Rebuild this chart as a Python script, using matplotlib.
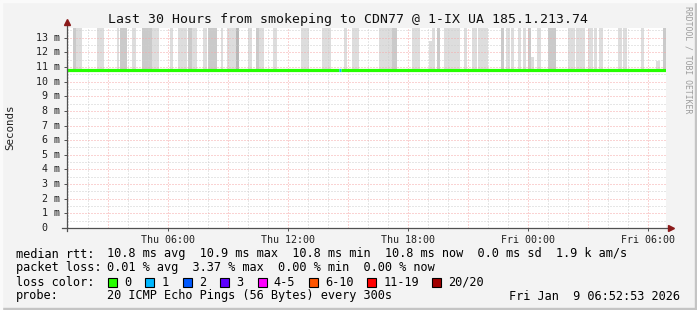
import matplotlib
matplotlib.use("Agg")
import matplotlib.pyplot as plt
from matplotlib.patches import Rectangle
from matplotlib.transforms import blended_transform_factory

plt.rcParams['font.family'] = ['DejaVu Sans Mono']

# time axis in hours since Thu 00:00
t_start = 0.95
t_end = 30.9

# smoke bars: start hour, end hour, top (ms), shade
smoke_start = [1.25, 1.40, 2.45, 3.45, 3.60, 4.20, 4.70, 5.20, 6.10, 6.50, 7.00, 7.20, 7.75, 8.00,
               8.65, 8.95, 9.40, 10.00, 10.40, 10.55, 11.25, 12.65, 13.70, 14.80, 15.20, 16.55,
               17.20, 18.20, 19.05, 19.20, 19.45, 19.80, 20.80, 21.20, 21.50, 22.65, 22.90, 23.15,
               23.50, 23.75, 24.00, 24.15, 24.45, 25.00, 26.00, 26.40, 27.00, 27.30, 27.55, 28.50,
               28.75, 29.65, 30.40, 30.75]
smoke_end = [1.40, 1.70, 2.80, 3.55, 3.95, 4.40, 5.20, 5.55, 6.25, 6.95, 7.20, 7.45, 7.95, 8.45,
             8.75, 9.40, 9.55, 10.20, 10.55, 10.80, 11.45, 13.05, 14.15, 14.95, 15.55, 17.20,
             17.45, 18.60, 19.20, 19.35, 19.60, 20.60, 20.95, 21.45, 22.00, 22.80, 23.10, 23.30,
             23.65, 23.90, 24.15, 24.30, 24.65, 25.40, 26.35, 26.85, 27.25, 27.45, 27.75, 28.70,
             28.95, 29.80, 30.60, 30.90]
smoke_top = [14, 14, 14, 14, 14, 14, 14, 14, 14, 14, 14, 14, 14, 14,
             14, 14, 14, 14, 14, 14, 14, 14, 14, 14, 14, 14,
             14, 14, 12.8, 14, 14, 14, 14, 14, 14, 14, 14, 14,
             14, 14, 14, 11.7, 14, 14, 14, 14, 14, 14, 14, 14,
             14, 14, 11.4, 14]
smoke_shade = ['D', 'L', 'L', 'L', 'D', 'L', 'D', 'L', 'L', 'L', 'D', 'L', 'L', 'D',
               'L', 'L', 'X', 'L', 'D', 'L', 'L', 'L', 'L', 'L', 'L', 'L',
               'D', 'L', 'L', 'L', 'D', 'L', 'L', 'L', 'L', 'D', 'L', 'L',
               'L', 'L', 'D', 'L', 'L', 'D', 'L', 'L', 'L', 'L', 'L', 'L',
               'L', 'L', 'L', 'D']
shade_colors = {'L': '#dddddd', 'D': '#cacaca', 'X': '#b8b8b8'}
smoke_bottom = 10.75

# median rtt segments (hours), value and loss class
med_start = [0.95, 14.55, 14.65]
med_end = [14.55, 14.65, 30.9]
med_value = [10.8, 10.8, 10.8]
med_loss = [0, 1, 0]

xtick_hours = [6, 12, 18, 24, 30]
xtick_labels = ['Thu 06:00', 'Thu 12:00', 'Thu 18:00', 'Fri 00:00', 'Fri 06:00']
ytick_values = list(range(14))

loss_labels = ['0', '1', '2', '3', '4-5', '6-10', '11-19', '20/20']
loss_colors = ['#26ff00', '#00b8ff', '#0059ff', '#5e00ff', '#ff00ff', '#ff5500', '#ff0000', '#a10000']

title = 'Last 30 Hours from smokeping to CDN77 @ 1-IX UA 185.1.213.74'
rtt_line = '10.8 ms avg  10.9 ms max  10.8 ms min  10.8 ms now  0.0 ms sd  1.9 k am/s'
loss_line = '0.01 % avg  3.37 % max  0.00 % min  0.00 % now'
probe_line = '20 ICMP Echo Pings (56 Bytes) every 300s'
stamp = 'Fri Jan  9 06:52:53 2026'

W, H = 697, 310
fig = plt.figure(figsize=(W / 100, H / 100), dpi=100, facecolor='#f3f3f3')

# frame
fig.patches.append(Rectangle((0, 0), 1, 2 / H, transform=fig.transFigure, color='#c4c4c4', zorder=0))
fig.patches.append(Rectangle((1 - 2 / W, 0), 2 / W, 1, transform=fig.transFigure, color='#c4c4c4', zorder=0))
fig.patches.append(Rectangle((0, 1 - 2 / H), 1, 2 / H, transform=fig.transFigure, color='#fafafa', zorder=0))
fig.patches.append(Rectangle((0, 0), 2 / W, 1, transform=fig.transFigure, color='#fafafa', zorder=0))

ax = fig.add_axes([67 / W, 1 - 228 / H, 599 / W, 200 / H])
ax.set_facecolor('white')
ax.set_xlim(t_start, t_start + 599 / 20)
ax.set_ylim(0, 13.66)

for s, e, top, sh in zip(smoke_start, smoke_end, smoke_top, smoke_shade):
    ax.bar(s, top - smoke_bottom, width=e - s, bottom=smoke_bottom, align='edge',
           color=shade_colors[sh], linewidth=0, zorder=1)

# grid
for h in range(1, 32):
    if h % 3 == 0:
        ax.axvline(h, color='#f6a8a8', lw=0.72, ls=(0, (1, 2)), zorder=2)
    else:
        ax.axvline(h, color='#cfcfcf', lw=0.72, ls=(0, (1, 2)), zorder=2)
for k in range(1, 28):
    v = k * 0.5
    if k % 2 == 0:
        ax.axhline(v, color='#f6a8a8', lw=0.72, ls=(0, (1, 2)), zorder=2)
    else:
        ax.axhline(v, color='#cfcfcf', lw=0.72, ls=(0, (1, 2)), zorder=2)

for s, e, v, l in zip(med_start, med_end, med_value, med_loss):
    ax.plot([s, e], [v, v], color=loss_colors[l], lw=2.3, solid_capstyle='butt', zorder=4)

for sp in ax.spines.values():
    sp.set_visible(False)

# axes with arrows
ax.plot([0, 0], [-0.015, 1.025], transform=ax.transAxes, color='#505050', lw=0.9, clip_on=False, zorder=5)
ax.plot([-0.008, 1.005], [0, 0], transform=ax.transAxes, color='#505050', lw=0.9, clip_on=False, zorder=5)
ax.plot([0], [1.03], transform=ax.transAxes, marker='^', ms=5, color='#8b1a1a', clip_on=False, zorder=6)
ax.plot([1.008], [0], transform=ax.transAxes, marker='>', ms=5, color='#8b1a1a', clip_on=False, zorder=6)

ax.set_xticks(xtick_hours)
ax.set_xticklabels(xtick_labels, fontsize=7.2, color='#202020')
ax.tick_params(axis='x', length=2, width=0.7, color='#505050', pad=3)
ax.set_yticks(ytick_values)
ax.set_yticklabels([])
ax.tick_params(axis='y', length=2.5, width=0.7, color='#505050')

bt = blended_transform_factory(fig.transFigure, ax.transData)
for v in ytick_values:
    lab = f'{v:2d} m' if v else ' 0'
    fig.text(36 / W, v, lab, transform=bt, fontsize=7.2, ha='left', va='center', color='#202020')

fig.text(348 / W, 1 - 19 / H, title, fontsize=9.55, ha='center', va='center', color='#101010')
fig.text(10 / W, 1 - 127 / H, 'Seconds', fontsize=7.8, rotation=90, ha='center', va='center', color='#202020')
fig.text(688 / W, 1 - 60 / H, 'RRDTOOL / TOBI OETIKER', fontsize=5.9, rotation=270,
         ha='center', va='center', color='#9c9c9c')

cw = 6.93
fs = 8.6
rows_y = [254, 268, 282, 296]
fig.text(16 / W, 1 - rows_y[0] / H, 'median rtt:', fontsize=fs, ha='left', va='center')
fig.text(107 / W, 1 - rows_y[0] / H, rtt_line, fontsize=fs, ha='left', va='center')
fig.text(16 / W, 1 - rows_y[1] / H, 'packet loss:', fontsize=fs, ha='left', va='center')
fig.text(107 / W, 1 - rows_y[1] / H, loss_line, fontsize=fs, ha='left', va='center')
fig.text(16 / W, 1 - rows_y[2] / H, 'loss color:', fontsize=fs, ha='left', va='center')
x = 108
for lab, col in zip(loss_labels, loss_colors):
    fig.patches.append(Rectangle((x / W, 1 - (rows_y[2] + 4.5) / H), 9 / W, 9 / H,
                                 transform=fig.transFigure, facecolor=col, edgecolor='black', lw=0.8))
    fig.text((x + 16) / W, 1 - rows_y[2] / H, lab, fontsize=fs, ha='left', va='center')
    x += (len(lab) + 4.4) * cw
fig.text(16 / W, 1 - rows_y[3] / H, 'probe:', fontsize=fs, ha='left', va='center')
fig.text(107 / W, 1 - rows_y[3] / H, probe_line, fontsize=fs, ha='left', va='center')
fig.text(680 / W, 1 - rows_y[3] / H, stamp, fontsize=fs, ha='right', va='center')

fig.savefig('out.png', dpi=100, facecolor=fig.get_facecolor())
